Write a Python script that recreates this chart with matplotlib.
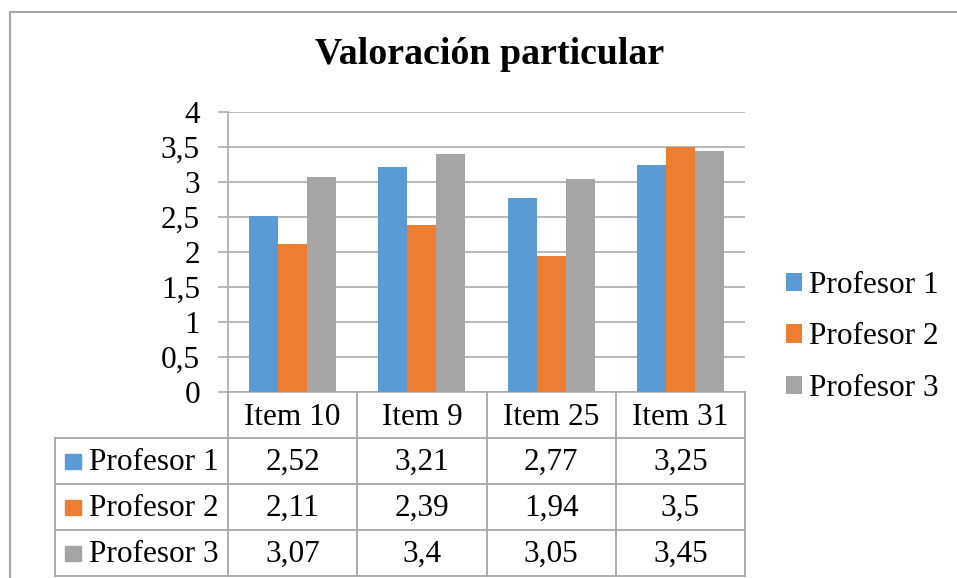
import matplotlib.pyplot as plt
from matplotlib.patches import Rectangle
from matplotlib.ticker import FuncFormatter, MultipleLocator

plt.rcParams['font.family'] = ['Liberation Serif', 'DejaVu Serif']

items = ['Item 10', 'Item 9', 'Item 25', 'Item 31']
series = ['Profesor 1', 'Profesor 2', 'Profesor 3']
prof1 = [2.52, 3.21, 2.77, 3.25]
prof2 = [2.11, 2.39, 1.94, 3.5]
prof3 = [3.07, 3.4, 3.05, 3.45]
colors = ['#5B9BD5', '#ED7D31', '#A5A5A5']

W, H = 957, 578
FS = 22.5
GRID = '#ABABAB'
BORDER = '#A6A6A6'


def px(x0, y0, x1, y1):
    # pixel box -> figure fraction rect
    return [x0 / W, 1 - y1 / H, (x1 - x0) / W, (y1 - y0) / H]


def fmt(v):
    return f'{v:g}'.replace('.', ',')


fig = plt.figure(figsize=(W / 100, H / 100), dpi=100)

# outer chart border (cut off right/bottom like the screenshot)
fig.patches.append(Rectangle((10 / W, -0.1), 1.2, 1 - 12 / H + 0.1,
                             transform=fig.transFigure, fill=False,
                             edgecolor=BORDER, linewidth=1.5))

ax = fig.add_axes(px(228, 112, 745, 392))
data = [prof1, prof2, prof3]
bw = 0.225
handles = []
for k, vals in enumerate(data):
    xs = [i + 0.5 + (k - 1) * bw for i in range(len(items))]
    b = ax.bar(xs, vals, width=bw, color=colors[k], label=series[k], zorder=3)
    handles.append(b)

ax.set_xlim(0, len(items))
ax.set_ylim(0, 4)
ax.yaxis.set_major_locator(MultipleLocator(0.5))
ax.yaxis.set_major_formatter(FuncFormatter(lambda v, p: fmt(v)))
ax.set_xticks([])
ax.grid(axis='y', color=GRID, linewidth=1.2, zorder=0)
ax.tick_params(axis='y', length=7.2, color=GRID, width=1.2, labelsize=FS, pad=13)
for s in ['top', 'right']:
    ax.spines[s].set_visible(False)
for s in ['left', 'bottom']:
    ax.spines[s].set_color(GRID)
    ax.spines[s].set_linewidth(1.2)

# data table under the plot
tx = fig.add_axes(px(55, 392, 745, 576))
left = -173 / (517 / len(items))
tx.set_xlim(left, len(items))
tx.set_ylim(4, 0)
tx.axis('off')
lw = 1.3
# vertical lines
for i in range(len(items) + 1):
    tx.plot([i, i], [0, 4], color=BORDER, lw=lw, clip_on=False)
tx.plot([left, left], [1, 4], color=BORDER, lw=lw, clip_on=False)
# horizontal lines
for r in range(1, 5):
    tx.plot([left, len(items)], [r, r], color=BORDER, lw=lw, clip_on=False)

for i, name in enumerate(items):
    tx.text(i + 0.5, 0.55, name, ha='center', va='center', fontsize=FS)
for k, vals in enumerate(data):
    r = k + 1.5
    tx.add_patch(Rectangle((left + 0.075, r - 0.15), 0.13, 0.32,
                           color=colors[k], clip_on=False))
    tx.text(left + 0.26, r + 0.03, series[k], ha='left', va='center', fontsize=FS)
    for i, v in enumerate(vals):
        tx.text(i + 0.5, r + 0.03, fmt(v), ha='center', va='center', fontsize=FS)

fig.legend(handles=handles, loc='center left',
           bbox_to_anchor=(786 / W, 1 - 337 / H), frameon=False,
           borderaxespad=0, borderpad=0,
           fontsize=FS, handlelength=0.52, handleheight=0.52,
           handletextpad=0.22, labelspacing=0.72)

fig.text(490 / W, 1 - 55 / H, 'Valoración particular', ha='center',
         va='center', fontsize=27.3, fontweight='bold')

fig.savefig('out.png', dpi=100)
